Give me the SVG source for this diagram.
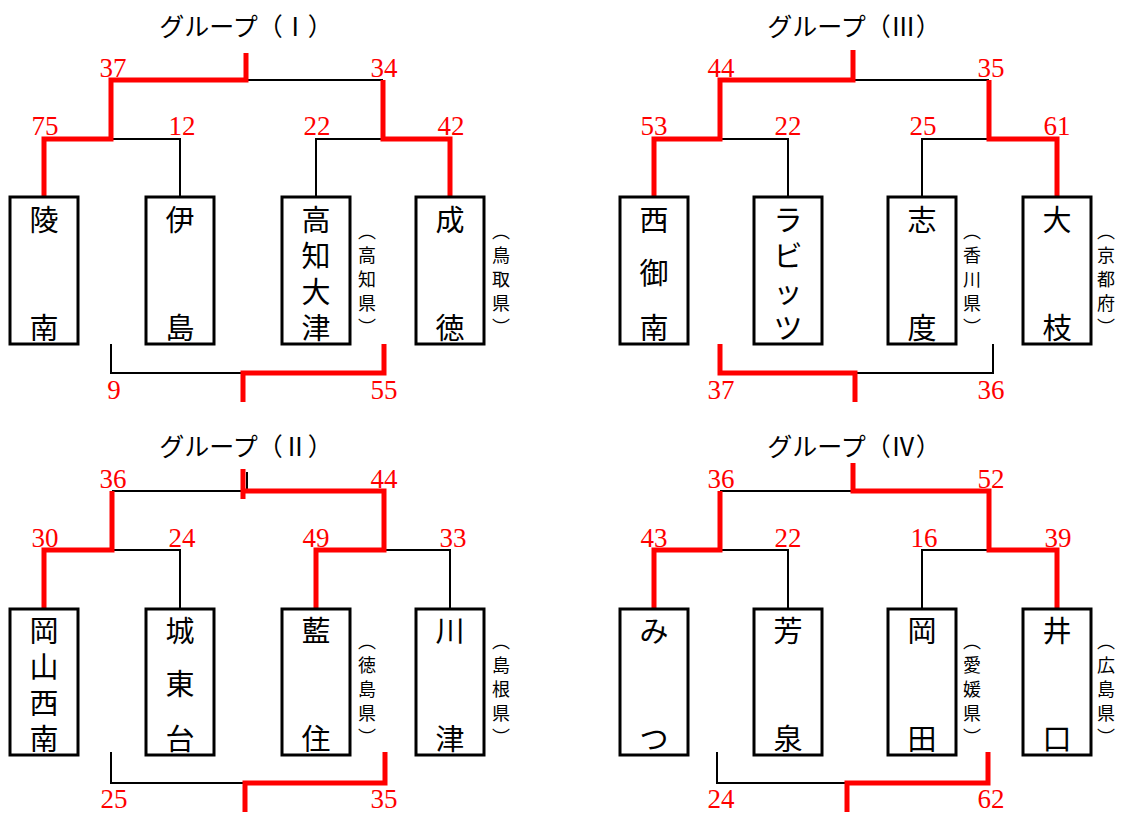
<svg xmlns="http://www.w3.org/2000/svg" width="1125" height="813" viewBox="0 0 1125 813">
<style>
.bg{fill:#fff}
.box{fill:#fff;stroke:#000;stroke-width:3}
.nm{font-family:"Noto Sans CJK JP","Noto Sans CJK SC",sans-serif;font-size:29px;fill:#000;text-anchor:middle;dominant-baseline:central}
.pf{font-family:"Noto Sans CJK JP","Noto Sans CJK SC",sans-serif;font-size:18px;fill:#000;writing-mode:vertical-rl;text-anchor:middle}
.ttl{font-family:"Liberation Serif","Noto Sans CJK JP",serif;font-size:25px;fill:#000;text-anchor:middle}
.num{font-family:"Liberation Serif",serif;font-size:27px;fill:#ff0000;text-anchor:middle}
.bk{fill:none;stroke:#000;stroke-width:2}
.rd{fill:none;stroke:#ff0000;stroke-width:5;stroke-linejoin:miter}
</style>
<rect class="bg" x="0" y="0" width="1125" height="813"/>

<g id="titles">
<text class="ttl" x="246" y="36">グループ（Ⅰ）</text>
<text class="ttl" x="854" y="36">グループ（Ⅲ）</text>
<text class="ttl" x="246" y="456">グループ（Ⅱ）</text>
<text class="ttl" x="854" y="456">グループ（Ⅳ）</text>
</g>

<g id="connectors">
<!-- Group I -->
<path class="bk" d="M111,139 H180 V197"/>
<path class="bk" d="M316,197 V139 H383"/>
<path class="bk" d="M246,80 H383"/>
<path class="bk" d="M111,344 V373 H246"/>
<path class="rd" d="M44,197 V139 H111 V80 H246 V53"/>
<path class="rd" d="M383,80 V139 H450 V197"/>
<path class="rd" d="M243,402 V373 H384 V344"/>
<!-- Group III -->
<path class="bk" d="M720,139 H788 V197"/>
<path class="bk" d="M922,197 V139 H989"/>
<path class="bk" d="M853,80 H989"/>
<path class="bk" d="M855,373 H993 V344"/>
<path class="rd" d="M654,197 V139 H720 V80 H853 V50"/>
<path class="rd" d="M989,80 V139 H1057 V197"/>
<path class="rd" d="M720,344 V373 H855 V402"/>
<!-- Group II -->
<path class="bk" d="M112,550 H180 V608"/>
<path class="bk" d="M384,550 H450 V608"/>
<path class="bk" d="M112,491 H246 M247,472 V491"/>
<path class="bk" d="M111,752 V783 H246"/>
<path class="rd" d="M44,608 V550 H112 V491"/>
<path class="rd" d="M243,469 V499 M243,491 H384 V550 H316 V608"/>
<path class="rd" d="M245,812 V783 H385 V752"/>
<!-- Group IV -->
<path class="bk" d="M720,550 H788 V608"/>
<path class="bk" d="M922,608 V550 H989"/>
<path class="bk" d="M720,491 H853"/>
<path class="bk" d="M717,752 V783 H847"/>
<path class="rd" d="M654,608 V550 H720 V491"/>
<path class="rd" d="M853,463 V491 H989 V550 H1057 V608"/>
<path class="rd" d="M847,812 V783 H988 V752"/>
</g>

<g id="scores">
<text class="num" x="113" y="77">37</text>
<text class="num" x="384" y="77">34</text>
<text class="num" x="45" y="135">75</text>
<text class="num" x="182" y="135">12</text>
<text class="num" x="317" y="135">22</text>
<text class="num" x="451" y="135">42</text>
<text class="num" x="114" y="399">9</text>
<text class="num" x="384" y="399">55</text>

<text class="num" x="721" y="77">44</text>
<text class="num" x="991" y="77">35</text>
<text class="num" x="654" y="135">53</text>
<text class="num" x="788" y="135">22</text>
<text class="num" x="923" y="135">25</text>
<text class="num" x="1057" y="135">61</text>
<text class="num" x="721" y="399">37</text>
<text class="num" x="991" y="399">36</text>

<text class="num" x="113" y="488">36</text>
<text class="num" x="384" y="488">44</text>
<text class="num" x="45" y="547">30</text>
<text class="num" x="182" y="547">24</text>
<text class="num" x="316" y="547">49</text>
<text class="num" x="453" y="547">33</text>
<text class="num" x="114" y="808">25</text>
<text class="num" x="384" y="808">35</text>

<text class="num" x="721" y="488">36</text>
<text class="num" x="991" y="488">52</text>
<text class="num" x="654" y="547">43</text>
<text class="num" x="788" y="547">22</text>
<text class="num" x="924" y="547">16</text>
<text class="num" x="1058" y="547">39</text>
<text class="num" x="721" y="808">24</text>
<text class="num" x="991" y="808">62</text>
</g>

<!-- Group I nodes -->
<g id="ryonan"><rect class="box" x="10" y="197" width="68" height="147"/><text class="nm"><tspan x="44" y="218">陵</tspan><tspan x="44" y="326">南</tspan></text></g>
<g id="ijima"><rect class="box" x="146" y="197" width="68" height="147"/><text class="nm"><tspan x="180" y="218">伊</tspan><tspan x="180" y="326">島</tspan></text></g>
<g id="kochiotsu"><rect class="box" x="282" y="197" width="68" height="147"/><text class="nm"><tspan x="316" y="218">高</tspan><tspan x="316" y="254">知</tspan><tspan x="316" y="290">大</tspan><tspan x="316" y="326">津</tspan></text><text class="pf" x="367" y="231 255 279 303 327">（高知県）</text></g>
<g id="seitoku"><rect class="box" x="416" y="197" width="68" height="147"/><text class="nm"><tspan x="450" y="218">成</tspan><tspan x="450" y="326">徳</tspan></text><text class="pf" x="501" y="231 255 279 303 327">（鳥取県）</text></g>

<!-- Group III nodes -->
<g id="nishimisono"><rect class="box" x="620" y="197" width="68" height="147"/><text class="nm"><tspan x="654" y="218">西</tspan><tspan x="654" y="271">御</tspan><tspan x="654" y="326">南</tspan></text></g>
<g id="rabbits"><rect class="box" x="754" y="197" width="68" height="147"/><text class="nm"><tspan x="788" y="218">ラ</tspan><tspan x="788" y="254">ビ</tspan><tspan x="788" y="290">ッ</tspan><tspan x="788" y="326">ツ</tspan></text></g>
<g id="shido"><rect class="box" x="888" y="197" width="68" height="147"/><text class="nm"><tspan x="922" y="218">志</tspan><tspan x="922" y="326">度</tspan></text><text class="pf" x="972" y="231 255 279 303 327">（香川県）</text></g>
<g id="oeda"><rect class="box" x="1023" y="197" width="68" height="147"/><text class="nm"><tspan x="1057" y="218">大</tspan><tspan x="1057" y="326">枝</tspan></text><text class="pf" x="1106" y="231 255 279 303 327">（京都府）</text></g>

<!-- Group II nodes -->
<g id="okayamaseinan"><rect class="box" x="10" y="609" width="68" height="146"/><text class="nm"><tspan x="44" y="629">岡</tspan><tspan x="44" y="665">山</tspan><tspan x="44" y="701">西</tspan><tspan x="44" y="737">南</tspan></text></g>
<g id="jotodai"><rect class="box" x="146" y="609" width="68" height="146"/><text class="nm"><tspan x="180" y="629">城</tspan><tspan x="180" y="682">東</tspan><tspan x="180" y="737">台</tspan></text></g>
<g id="aizumi"><rect class="box" x="282" y="609" width="68" height="146"/><text class="nm"><tspan x="316" y="629">藍</tspan><tspan x="316" y="737">住</tspan></text><text class="pf" x="367" y="641 665 689 713 737">（徳島県）</text></g>
<g id="kawatsu"><rect class="box" x="416" y="609" width="68" height="146"/><text class="nm"><tspan x="450" y="629">川</tspan><tspan x="450" y="737">津</tspan></text><text class="pf" x="501" y="641 665 689 713 737">（島根県）</text></g>

<!-- Group IV nodes -->
<g id="mitsu"><rect class="box" x="620" y="609" width="68" height="146"/><text class="nm"><tspan x="654" y="629">み</tspan><tspan x="654" y="737">つ</tspan></text></g>
<g id="yoshizumi"><rect class="box" x="754" y="609" width="68" height="146"/><text class="nm"><tspan x="788" y="629">芳</tspan><tspan x="788" y="737">泉</tspan></text></g>
<g id="okada"><rect class="box" x="888" y="609" width="68" height="146"/><text class="nm"><tspan x="922" y="629">岡</tspan><tspan x="922" y="737">田</tspan></text><text class="pf" x="972" y="641 665 689 713 737">（愛媛県）</text></g>
<g id="iguchi"><rect class="box" x="1023" y="609" width="68" height="146"/><text class="nm"><tspan x="1057" y="629">井</tspan><tspan x="1057" y="737">口</tspan></text><text class="pf" x="1106" y="641 665 689 713 737">（広島県）</text></g>
</svg>
